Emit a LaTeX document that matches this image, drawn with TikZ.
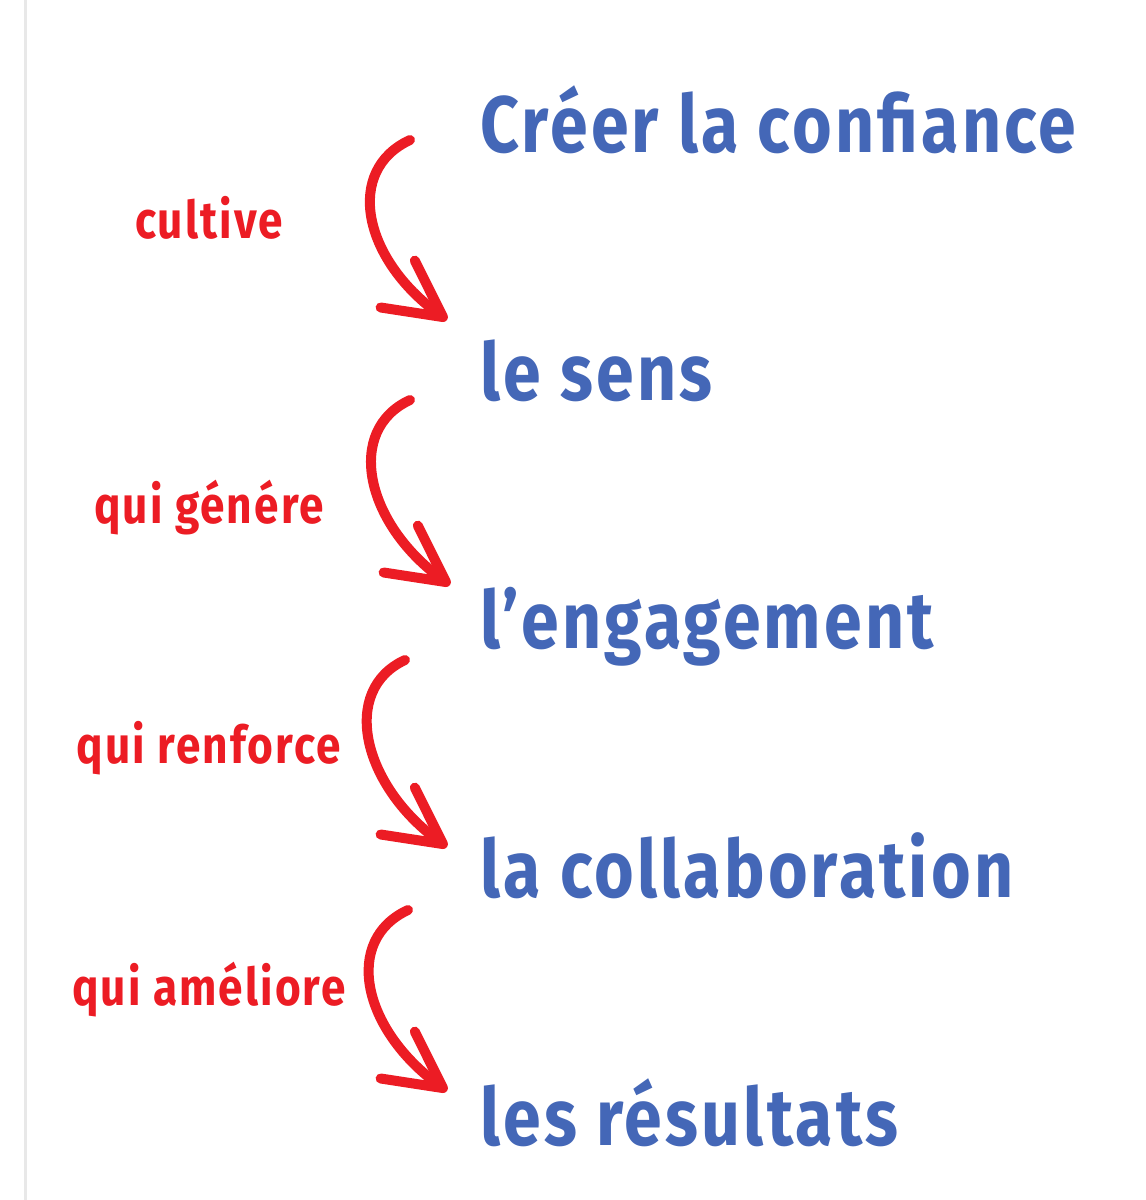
\documentclass[tikz,border=0pt]{standalone}
\usepackage{fontspec}
\setmainfont{Fira Sans}[FakeStretch=0.85, LetterSpace=4]
\usetikzlibrary{arrows.meta}
\definecolor{stepblue}{HTML}{4467B7}
\definecolor{linkred}{HTML}{EC1C24}

\tikzset{
  stepname/.style={anchor=base west, inner sep=0pt, text=stepblue,
    font=\fontsize{40}{44}\selectfont\bfseries},
  linkname/.style={anchor=base, inner sep=0pt, text=linkred,
    font=\fontsize{26}{30}\selectfont\bfseries},
  curl/.style={draw=linkred, line width=5pt, line cap=round,
    -{Straight Barb[length=28pt, width=29pt, round]}}
}

\begin{document}
\begin{tikzpicture}[x=0.5pt,y=-0.5pt]
        \useasboundingbox (0,0) rectangle (1146,1200);
        \def\tx{480}
        \def\lx{209}

        % Margin line
        \draw[line width=1.5pt, gray!18] (25,0) -- (25,1200);

        % Steps
        \node[stepname] (s1) at (\tx,152) {Créer la confiance};
        \node[stepname] (s2) at (\tx,400) {le sens};
        \node[stepname] (s3) at (\tx,648) {l’engagement};
        \node[stepname] (s4) at (\tx,897) {la collaboration};
        \node[stepname] (s5) at (\tx,1145) {les résultats};

        % Links
        \node[linkname] (l1) at (\lx,238) {cultive};
        \node[linkname] (l2) at (\lx,523) {qui génére};
        \node[linkname] (l3) at (\lx,763) {qui renforce};
        \node[linkname] (l4) at (\lx,1005) {qui améliore};

        % Arrows
        \coordinate (a1) at (410,140);  \coordinate (b1) at (447,320);
        \coordinate (a2) at (410,400);  \coordinate (b2) at (450,585);
        \coordinate (a3) at (405,660);  \coordinate (b3) at (447,847);
        \coordinate (a4) at (408,910);  \coordinate (b4) at (447,1091);
        \foreach \i in {1,...,4}
            \draw[curl] (a\i) .. controls +(-65,30) and +(-85,-62) .. (b\i);
\end{tikzpicture}
\end{document}
